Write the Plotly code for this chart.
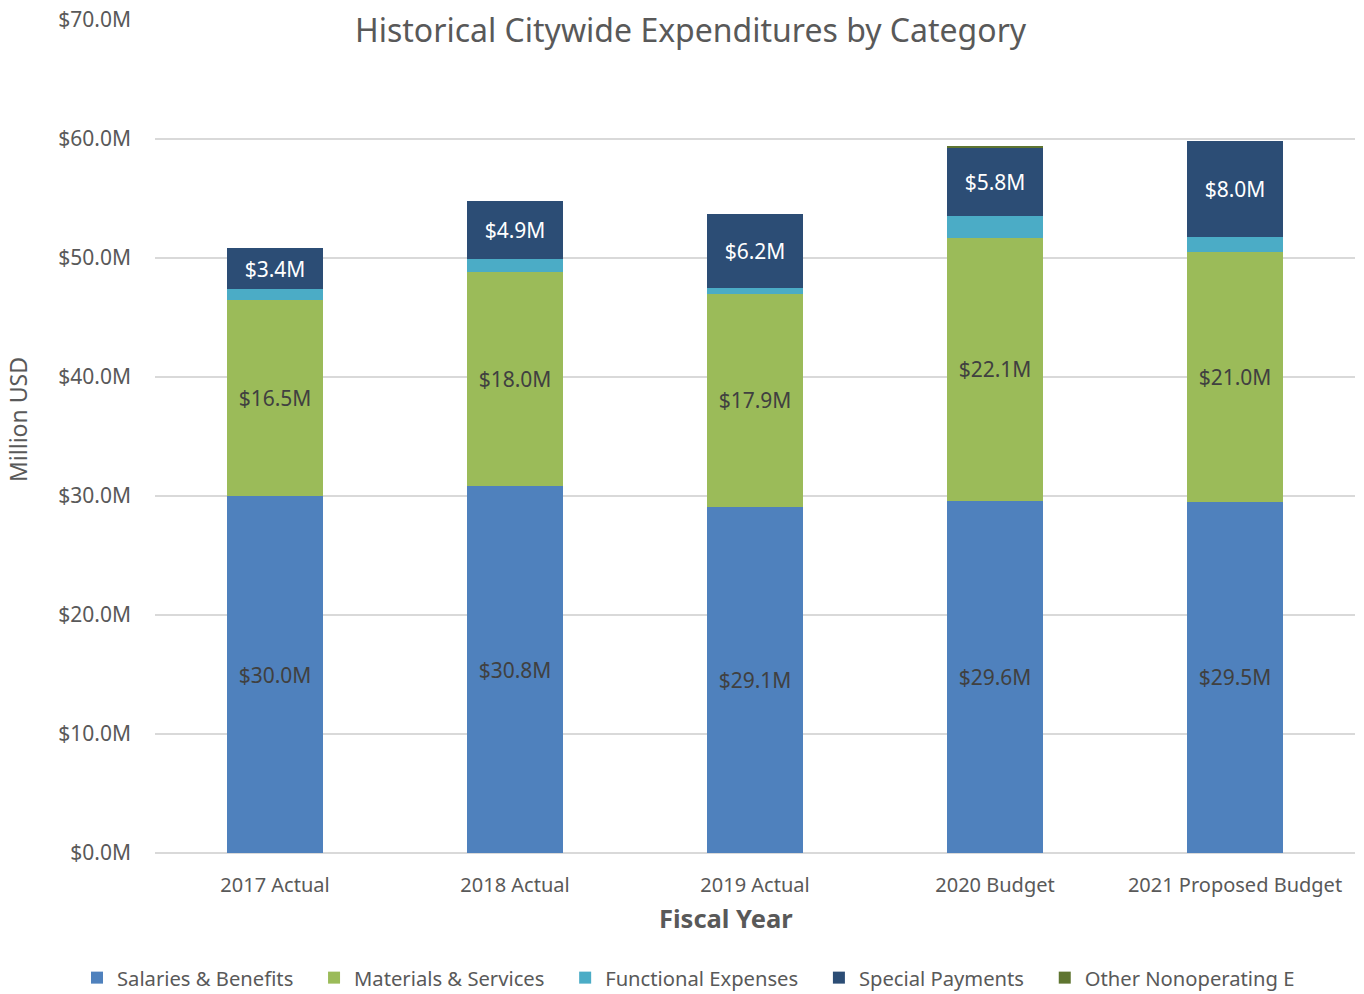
import plotly.graph_objects as go

categories = ["2017 Actual", "2018 Actual", "2019 Actual", "2020 Budget", "2021 Proposed Budget"]
salaries = [30.0, 30.8, 29.1, 29.6, 29.5]
materials = [16.5, 18.0, 17.9, 22.1, 21.0]
functional = [0.9, 1.1, 0.5, 1.8, 1.3]
special = [3.4, 4.9, 6.2, 5.8, 8.0]
other = [0.0, 0.0, 0.0, 0.15, 0.0]

NB = "\u00a0" * 3
series = [
    ("Salaries & Benefits" + NB, salaries, "#4F81BD", True, "#404040"),
    ("Materials & Services" + NB, materials, "#9BBB59", True, "#404040"),
    ("Functional Expenses" + NB, functional, "#4BACC6", False, None),
    ("Special Payments" + NB, special, "#2C4D75", True, "#FFFFFF"),
    ("Other Nonoperating E", other, "#5F7530", False, None),
]

FONT = "Noto Sans"
fig = go.Figure()
for name, vals, color, show, tcolor in series:
    if show:
        kw = dict(texttemplate="$%{y:.1f}M", textposition="inside",
                  insidetextanchor="middle", textangle=0,
                  textfont=dict(family=FONT, size=21, color=tcolor))
    else:
        kw = dict(texttemplate="", textposition="none")
    fig.add_trace(go.Bar(name=name, x=categories, y=vals, marker=dict(color=color, line=dict(width=0)),
                         hoverinfo="skip", **kw))

W0, W1, H0, H1 = 155, 1355, 853, 20
def px(x): return (x - W0) / (W1 - W0)
def py(y): return (H0 - y) / (H0 - H1)

fig.update_layout(
    barmode="stack",
    bargap=0.6,
    width=1364, height=994,
    margin=dict(l=155, r=9, t=20, b=141, autoexpand=False),
    plot_bgcolor="white", paper_bgcolor="white",
    font=dict(family=FONT, color="#595959"),
    uniformtext=dict(minsize=21, mode="show"),
    showlegend=True,
    legend=dict(orientation="h", x=px(77), xanchor="left", y=py(978), yanchor="middle",
                font=dict(family=FONT, size=20.2, color="#595959"), itemsizing="constant",
                traceorder="normal", itemwidth=30),
)
fig.add_annotation(text="Historical Citywide Expenditures by Category", x=px(691), y=py(29), xref="paper", yref="paper",
                   showarrow=False, font=dict(family=FONT, size=32, color="#595959"), xanchor="center", yanchor="middle")
fig.add_annotation(text="<b>Fiscal Year</b>", x=px(726), y=py(918), xref="paper", yref="paper",
                   showarrow=False, font=dict(family=FONT, size=25.5, color="#595959"), xanchor="center", yanchor="middle")
fig.add_annotation(text="Million USD", x=px(18), y=py(420), xref="paper", yref="paper", textangle=-90,
                   showarrow=False, font=dict(family=FONT, size=23, color="#595959"), xanchor="center", yanchor="middle")

fig.update_yaxes(range=[0, 70], dtick=10, tickprefix="$", ticksuffix="M", tickformat=".1f", automargin=False,
                 showgrid=True, gridcolor="#D9D9D9", gridwidth=2, zeroline=True, zerolinecolor="#D9D9D9",
                 zerolinewidth=2, tickfont=dict(family=FONT, size=21, color="#595959"), ticks="", ticklabelstandoff=23)
fig.update_xaxes(tickfont=dict(family=FONT, size=20, color="#595959"), showline=False, ticks="", automargin=False,
                 ticklabelstandoff=18)

fig.write_html("out.html", config={"displayModeBar": False},
               post_script="document.body.style.margin='0';document.body.style.overflow='hidden';")
